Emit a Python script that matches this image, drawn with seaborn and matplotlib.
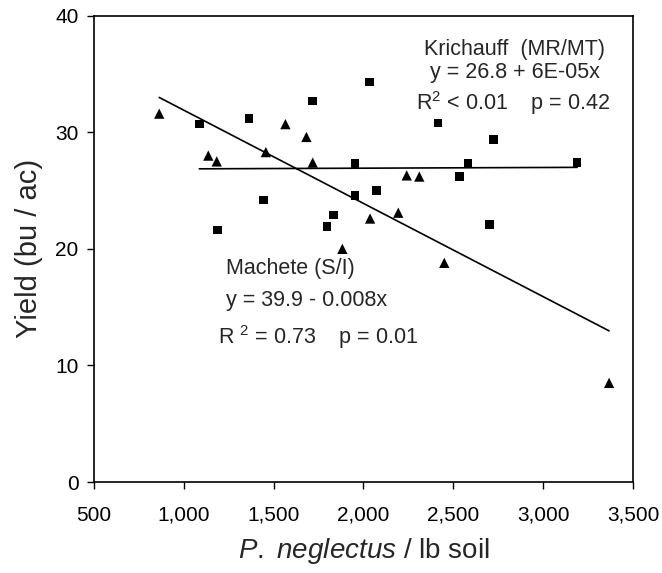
import matplotlib
matplotlib.use("Agg")
import matplotlib.pyplot as plt
import numpy as np
import pandas as pd
import seaborn as sns
from matplotlib.ticker import FuncFormatter

# Krichauff (MR/MT) - squares
krich_x = [1087, 1189, 1364, 1445, 1716, 1798, 1834, 1954, 1954, 2035,
           2074, 2414, 2536, 2581, 2701, 2723, 3189]
krich_y = [30.7, 21.6, 31.2, 24.2, 32.7, 21.9, 22.9, 27.3, 24.6, 34.3,
           25.0, 30.8, 26.2, 27.3, 22.1, 29.4, 27.4]

# Machete (S/I) - triangles
mach_x = [864, 1137, 1184, 1457, 1566, 1683, 1718, 1883, 2037, 2194,
          2241, 2311, 2450, 3367]
mach_y = [31.6, 28.0, 27.5, 28.3, 30.7, 29.6, 27.4, 20.0, 22.6, 23.1,
          26.3, 26.2, 18.8, 8.5]

# fitted lines as printed on the chart (intercept, slope)
krich_fit = (26.8, 6e-05)
mach_fit = (39.9, -0.008)

x_ticks = [500, 1000, 1500, 2000, 2500, 3000, 3500]
y_ticks = [0, 10, 20, 30, 40]

sns.set_style("ticks")
plt.rcParams["font.family"] = ["Liberation Sans", "DejaVu Sans"]
plt.rcParams["mathtext.fontset"] = "custom"
plt.rcParams["mathtext.rm"] = "Liberation Sans"
plt.rcParams["mathtext.it"] = "Liberation Sans:italic"

df = pd.DataFrame({
    "x": krich_x + mach_x,
    "y": krich_y + mach_y,
    "variety": ["Krichauff"] * len(krich_x) + ["Machete"] * len(mach_x),
})

fig = plt.figure(figsize=(6.62, 5.73), dpi=100)
ax = fig.add_axes([0.1417, 0.1588, 0.8145, 0.8138])

# regression lines over the range of each group
for xs, (b0, b1) in [(krich_x, krich_fit), (mach_x, mach_fit)]:
    lx = np.array([min(xs), max(xs)])
    sns.lineplot(x=lx, y=b0 + b1 * lx, ax=ax, color="black", lw=1.2,
                 legend=False)

sns.scatterplot(data=df, x="x", y="y", style="variety",
                markers={"Krichauff": "s", "Machete": "^"},
                size="variety", sizes={"Krichauff": 38, "Machete": 55},
                color="black", edgecolor="none", legend=False, ax=ax, zorder=3)

ax.set_xlim(500, 3500)
ax.set_ylim(0, 40)
ax.set_xticks(x_ticks)
ax.set_yticks(y_ticks)
ax.xaxis.set_major_formatter(FuncFormatter(lambda v, p: f"{int(v):,}"))
ax.tick_params(axis="both", direction="out", length=5, width=1,
               labelsize=15, colors="black")
ax.tick_params(axis="x", pad=12)
ax.tick_params(axis="y", pad=6)
for s in ax.spines.values():
    s.set_linewidth(1.2)
    s.set_color("black")

ax.set_ylabel("Yield (bu / ac)", fontsize=21, labelpad=9)
ax.set_xlabel(r"$\mathit{P.}$ $\mathit{neglectus}$ / lb soil", fontsize=20, labelpad=8)

fs = 15.5
ax.text(2337, 37.1, "Krichauff  (MR/MT)", fontsize=fs, ha="left", va="center")
ax.text(2841, 35.1, "y = 26.8 + 6E-05x", fontsize=fs, ha="center", va="center")
ax.text(2833, 32.5, "R$^2$ < 0.01    p = 0.42", fontsize=fs, ha="center", va="center")

ax.text(1236, 18.3, "Machete (S/I)", fontsize=fs, ha="left", va="center")
ax.text(1236, 15.6, "y = 39.9 - 0.008x", fontsize=fs, ha="left", va="center")
ax.text(1191, 12.4, "R $^2$ = 0.73    p = 0.01", fontsize=fs, ha="left", va="center")

fig.savefig("out.png", dpi=100, facecolor="white")
